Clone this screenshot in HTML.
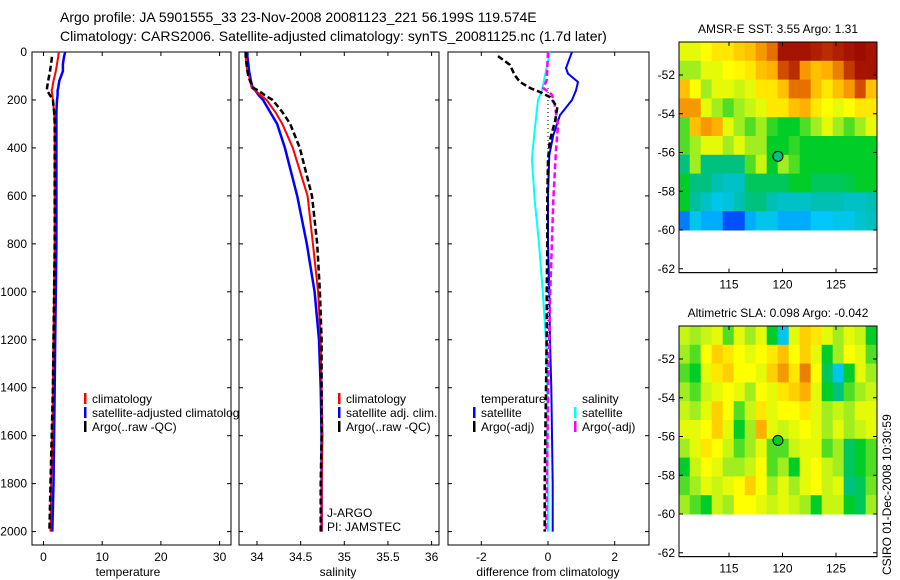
<!DOCTYPE html>
<html><head><meta charset="utf-8">
<style>
html,body{margin:0;padding:0;background:#fff;}
svg{display:block;font-family:"Liberation Sans",sans-serif;}
</style></head>
<body>
<svg id="fig" width="900" height="580" viewBox="0 0 900 580" xmlns="http://www.w3.org/2000/svg">
<rect width="900" height="580" fill="#fff"/>
<text x="60" y="22" font-size="14">Argo profile: JA 5901555_33 23-Nov-2008 20081123_221 56.199S 119.574E</text>
<text x="60" y="41" font-size="14">Climatology: CARS2006. Satellite-adjusted climatology: synTS_20081125.nc (1.7d later)</text>
<g id="root"></g>
</svg>
<script>
// ---------- data ----------
const depths = [0,20,50,80,100,120,150,160,180,200,250,300,400,600,800,1000,1200,1400,1600,1800,2000];
const tempClim = [2.6,2.5,2.3,2.1,1.9,1.7,1.5,1.4,1.5,1.6,1.8,1.9,1.9,1.9,1.9,1.8,1.7,1.6,1.5,1.3,1.2];
const tempSat  = [3.7,3.5,3.3,3.3,3.0,2.7,2.5,2.4,2.4,2.3,2.2,2.2,2.2,2.2,2.2,2.1,2.0,1.9,1.8,1.7,1.5];
const tempArgo = [1.45,1.45,1.3,1.1,0.95,0.8,0.6,0.6,1.1,1.6,1.8,1.9,1.9,1.9,1.9,1.8,1.7,1.6,1.4,1.2,1.0];
const salClim = [33.87,33.87,33.88,33.89,33.91,33.92,33.94,33.98,34.04,34.11,34.21,34.29,34.41,34.58,34.64,34.70,34.73,34.74,34.75,34.74,34.74];
const salSat  = [33.89,33.89,33.90,33.91,33.92,33.93,33.95,33.98,34.02,34.07,34.15,34.23,34.32,34.46,34.57,34.66,34.71,34.73,34.74,34.74,34.74];
const salArgo = [33.87,33.87,33.88,33.89,33.90,33.92,33.96,34.01,34.09,34.18,34.29,34.38,34.49,34.63,34.69,34.72,34.74,34.74,34.74,34.73,34.73];
const dTempSatDepth = [0,30,67,90,125,160,200,263,347,430,600,800,1000,1200,1400,1600,1800,2000];
const dTempSat = [0.72,0.64,0.54,0.6,0.9,0.84,0.72,0.36,0.16,0.04,0.0,0.0,0.04,0.06,0.1,0.12,0.14,0.14];
const dTempArgoDepth = [17,54,96,125,150,167,188,230,284,367,451,600,800,1000,1200,1400,1600,1800,2000];
const dTempArgo = [-1.5,-1.14,-1.0,-0.84,-0.54,-0.24,0.06,0.28,0.22,0.06,0.0,-0.02,-0.02,-0.04,-0.04,-0.06,-0.08,-0.1,-0.1];
const dSalSatDepth = [0,159,200,326,409,451,618,785,994,1203,1453,2000];
const dSalSat = [0.06,-0.18,-0.3,-0.4,-0.46,-0.48,-0.4,-0.28,-0.16,-0.06,-0.02,0.0];
const dSalArgoDepth = [0,117,150,179,221,305,409,618,785,1035,1453,1871,2000];
const dSalArgo = [0.0,-0.04,-0.14,0.12,0.2,0.3,0.24,0.16,0.12,0.06,0.0,-0.04,-0.06];
const depthTicks = [0,200,400,600,800,1000,1200,1400,1600,1800,2000];
const tempTicks = [0,10,20,30];
const salTicks = [34,34.5,35,35.5,36];
const salTickLabels = ["34","34.5","35","35.5","36"];
const diffTicks = [-2,0,2];
const latTicks = [-52,-54,-56,-58,-60,-62];
const lonTicks = [115,120,125];
const argoLon = 119.574, argoLat = -56.199;
// SST map (0..1 colour index), 10 rows (-50.3 -> -60) x 18 cols (110.3 -> 128.8)
const sstGrid = [
[0.6,0.6,0.62,0.65,0.65,0.68,0.7,0.75,0.8,0.95,0.95,0.95,0.92,0.9,0.92,0.95,0.97,0.95],
[0.55,0.55,0.6,0.6,0.62,0.63,0.65,0.7,0.72,0.85,0.9,0.75,0.7,0.72,0.78,0.88,0.95,0.95],
[0.7,0.62,0.55,0.6,0.6,0.58,0.6,0.65,0.65,0.7,0.8,0.8,0.7,0.65,0.7,0.75,0.85,0.7],
[0.75,0.75,0.6,0.55,0.5,0.55,0.58,0.6,0.65,0.65,0.7,0.72,0.65,0.62,0.6,0.62,0.65,0.65],
[0.5,0.7,0.75,0.72,0.6,0.55,0.5,0.55,0.48,0.45,0.45,0.5,0.55,0.6,0.55,0.5,0.55,0.6],
[0.5,0.55,0.6,0.6,0.55,0.6,0.55,0.55,0.45,0.45,0.48,0.45,0.45,0.45,0.45,0.45,0.45,0.45],
[0.4,0.55,0.4,0.4,0.4,0.4,0.5,0.58,0.45,0.55,0.5,0.45,0.45,0.45,0.45,0.45,0.45,0.45],
[0.45,0.4,0.4,0.36,0.34,0.34,0.42,0.42,0.42,0.42,0.45,0.45,0.42,0.42,0.42,0.43,0.45,0.45],
[0.45,0.38,0.34,0.3,0.32,0.36,0.4,0.4,0.36,0.34,0.34,0.34,0.36,0.36,0.36,0.34,0.34,0.36],
[0.2,0.3,0.25,0.25,0.15,0.15,0.25,0.3,0.3,0.25,0.25,0.25,0.28,0.28,0.3,0.3,0.33,0.35]];
const slaGrid = [
[0.58,0.55,0.58,0.6,0.5,0.6,0.55,0.6,0.45,0.3,0.6,0.68,0.65,0.6,0.55,0.6,0.58,0.45],
[0.55,0.5,0.62,0.68,0.65,0.62,0.6,0.62,0.65,0.7,0.62,0.68,0.6,0.45,0.55,0.62,0.6,0.5],
[0.5,0.45,0.6,0.65,0.68,0.62,0.62,0.6,0.68,0.75,0.65,0.78,0.62,0.42,0.3,0.45,0.6,0.55],
[0.55,0.5,0.58,0.6,0.62,0.6,0.55,0.62,0.6,0.65,0.68,0.72,0.6,0.45,0.4,0.5,0.55,0.58],
[0.58,0.55,0.6,0.68,0.62,0.5,0.58,0.65,0.6,0.62,0.62,0.65,0.6,0.55,0.58,0.55,0.6,0.6],
[0.6,0.6,0.62,0.68,0.6,0.45,0.55,0.72,0.6,0.58,0.6,0.62,0.6,0.55,0.6,0.55,0.58,0.6],
[0.55,0.6,0.65,0.62,0.58,0.5,0.55,0.6,0.5,0.5,0.58,0.6,0.6,0.5,0.55,0.42,0.45,0.5],
[0.45,0.58,0.62,0.6,0.55,0.55,0.58,0.62,0.5,0.55,0.45,0.6,0.62,0.58,0.55,0.42,0.45,0.5],
[0.5,0.55,0.6,0.58,0.6,0.62,0.68,0.62,0.55,0.6,0.55,0.6,0.62,0.58,0.6,0.4,0.42,0.52],
[0.55,0.5,0.45,0.58,0.55,0.62,0.62,0.6,0.58,0.6,0.58,0.55,0.45,0.58,0.58,0.45,0.42,0.55]];

// ---------- helpers ----------
const NS="http://www.w3.org/2000/svg";
const root=document.getElementById('root');
function mk(tag,attrs,parent){const e=document.createElementNS(NS,tag);for(const k in attrs)e.setAttribute(k,attrs[k]);(parent||root).appendChild(e);return e;}
const TOP=52,BOT=545;
const yD=d=>52+d*0.2398;
function lin(d0,d1,p0,p1){return v=>p0+(v-d0)*(p1-p0)/(d1-d0);}
function panel(name,x0,x1){
  const g=mk('g',{});
  
  
  mk('rect',{x:x0,y:TOP,width:x1-x0,height:BOT-TOP,fill:'#fff',stroke:'#000','stroke-width':1},g);
  return g;
}
function ticksX(g,vals,labels,sx,x0,x1){
  vals.forEach((v,i)=>{const x=sx(v);
    mk('line',{x1:x,x2:x,y1:BOT,y2:BOT-4,stroke:'#000'},g);
    mk('line',{x1:x,x2:x,y1:TOP,y2:TOP+4,stroke:'#000'},g);
    const t=mk('text',{x:x,y:BOT+16,'font-size':12,'text-anchor':'middle'},g);t.textContent=labels[i];
    
    
  });
  depthTicks.forEach(d=>{const y=yD(d);
    mk('line',{x1:x0,x2:x0+4,y1:y,y2:y,stroke:'#000'},g);
    mk('line',{x1:x1,x2:x1-4,y1:y,y2:y,stroke:'#000'},g);});
}
function line(g,name,ds,vs,sx,color,w,dash){
  const pts=ds.map((d,i)=>sx(vs[i]).toFixed(1)+','+yD(d).toFixed(1)).join(' ');
  const p=mk('polyline',{points:pts,fill:'none',stroke:color,'stroke-width':w},g);
  if(dash)p.setAttribute('stroke-dasharray',dash);
  
  
}
function legend(g,x,y,color,label,name){
  mk('rect',{x:x,y:y-10,width:2.5,height:11,fill:color},g);
  const t=mk('text',{x:x+8,y:y,'font-size':12},g);t.textContent=label;
  
  
}
function text(g,x,y,s,name,anchor){const t=mk('text',{x:x,y:y,'font-size':12,'text-anchor':anchor||'start'},g);t.textContent=s;
  
  return t;}

// ---------- temperature panel ----------
const sxT=lin(0,10,43.5,102.2);
const gT=panel('temperature-panel',32,231);
ticksX(gT,tempTicks,tempTicks.map(String),sxT,32,231);
depthTicks.forEach(d=>{text(gT,27,yD(d)+4,String(d),'depth-tick-label','end');});
line(gT,'temp-satellite-line',depths,tempSat,sxT,'#0000ff',2.5);
line(gT,'temp-climatology-line',depths,tempClim,sxT,'#ff0000',2);
line(gT,'temp-argo-line',depths.slice(1),tempArgo.slice(1),sxT,'#000',2.5,'6,3');
legend(gT,84,403,'#ff0000','climatology','legend-temp-climatology');
legend(gT,84,417,'#0000ff','satellite-adjusted climatology','legend-temp-satellite');
legend(gT,84,431,'#000','Argo(..raw -QC)','legend-temp-argo');
text(gT,128,576,'temperature','x-axis-title-temperature','middle');

// ---------- salinity panel ----------
const sxS=lin(34,35,257,344.3);
const gS=panel('salinity-panel',239,439);
ticksX(gS,salTicks,salTickLabels,sxS,239,439);
line(gS,'sal-satellite-line',depths,salSat,sxS,'#0000ff',2.5);
line(gS,'sal-climatology-line',depths,salClim,sxS,'#ff0000',2);
line(gS,'sal-argo-line',depths,salArgo,sxS,'#000',2.5,'6,3');
legend(gS,338,403,'#ff0000','climatology','legend-sal-climatology');
legend(gS,338,417,'#0000ff','satellite adj. clim.','legend-sal-satellite');
legend(gS,338,431,'#000','Argo(..raw -QC)','legend-sal-argo');
text(gS,327,517,'J-ARGO','data-centre-label');
text(gS,327,531,'PI: JAMSTEC','pi-label');
text(gS,338,576,'salinity','x-axis-title-salinity','middle');

// ---------- difference panel ----------
const sxD=lin(0,2,548,614.7);
const gD=panel('difference-panel',448,649);
ticksX(gD,diffTicks,diffTicks.map(String),sxD,448,649);
mk('line',{x1:sxD(0),x2:sxD(0),y1:yD(150),y2:yD(2000),stroke:'#000','stroke-dasharray':'1,3'},gD);
line(gD,'diff-sal-satellite-line',dSalSatDepth,dSalSat,sxD,'#00ffff',2);
line(gD,'diff-temp-satellite-line',dTempSatDepth,dTempSat,sxD,'#0000ff',2);
line(gD,'diff-sal-argo-line',dSalArgoDepth,dSalArgo,sxD,'#ff00ff',2.5,'6,3');
line(gD,'diff-temp-argo-line',dTempArgoDepth,dTempArgo,sxD,'#000',2.5,'6,3');
text(gD,481,403,'temperature','legend-temperature-heading');
legend(gD,473,417,'#0000ff','satellite','legend-diff-temp-satellite');
legend(gD,473,431,'#000','Argo(-adj)','legend-diff-temp-argo');
text(gD,582,403,'salinity','legend-salinity-heading');
legend(gD,574,417,'#00ffff','satellite','legend-diff-sal-satellite');
legend(gD,574,431,'#ff00ff','Argo(-adj)','legend-diff-sal-argo');
text(gD,548,576,'difference from climatology','x-axis-title-difference','middle');

// ---------- maps ----------
const cstops=[[0,[0,32,160]],[0.15,[0,80,255]],[0.28,[0,200,255]],[0.38,[0,190,160]],[0.45,[0,205,40]],[0.55,[160,238,32]],[0.62,[255,255,0]],[0.72,[255,176,0]],[0.82,[224,96,0]],[0.92,[176,32,0]],[1,[144,0,0]]];
function cmap(v){for(let i=1;i<cstops.length;i++){if(v<=cstops[i][0]){const a=cstops[i-1],b=cstops[i];const t=(v-a[0])/(b[0]-a[0]);return 'rgb('+a[1].map((c,k)=>Math.round(c+(b[1][k]-c)*t)).join(',')+')';}}return 'rgb(144,0,0)';}
function map(name,title,top,grid){
  const g=mk('g',{});
  
  
  const L=679,R=877;
  const sx=lin(115,120,729,782.5);
  const sy=lin(-52,-60,top+33,top+188);
  const bottom=sy(-62.2), topY=top;
  mk('rect',{x:L,y:topY,width:R-L,height:bottom-topY,fill:'#fff',stroke:'#000'},g);
  const rows=grid.length,cols=grid[0].length;
  const lon0=110.3,lon1=128.8,lat0=sy.length?0:0;
  const latTop=-52+(top+33-topY)/ (155/8);
  const cw=(lon1-lon0)/cols, ch=(latTop-(-60))/rows;
  grid.forEach((row,r)=>row.forEach((v,c)=>{
    const x=sx(lon0+c*cw), y=sy(latTop-r*ch);
    const cell=mk('rect',{x:x.toFixed(2),y:y.toFixed(2),width:(sx(lon0+(c+1)*cw)-x+0.5).toFixed(2),height:(sy(latTop-(r+1)*ch)-y+0.5).toFixed(2),fill:cmap(v)},g);
    
    
  }));
  mk('rect',{x:L,y:topY,width:R-L,height:bottom-topY,fill:'none',stroke:'#000'},g);
  latTicks.forEach(la=>{const y=sy(la);
    mk('line',{x1:L,x2:L+4,y1:y,y2:y,stroke:'#000'},g);
    mk('line',{x1:R,x2:R-4,y1:y,y2:y,stroke:'#000'},g);
    text(g,675,y+4,String(la),'lat-tick-label','end');});
  lonTicks.forEach(lo=>{const x=sx(lo);
    mk('line',{x1:x,x2:x,y1:topY,y2:topY+4,stroke:'#000'},g);
    mk('line',{x1:x,x2:x,y1:bottom,y2:bottom-4,stroke:'#000'},g);
    text(g,x,bottom+16,String(lo),'lon-tick-label','middle');});
  const dot=mk('circle',{cx:sx(argoLon),cy:sy(argoLat),r:5,fill:cmap(name==='sst-map'?0.4:0.45),stroke:'#000'},g);
  
  
  text(g,778,top-9,title,name+'-title','middle');
}
map('sst-map','AMSR-E SST: 3.55 Argo: 1.31',42,sstGrid);
map('sla-map','Altimetric SLA: 0.098 Argo: -0.042',326,slaGrid);
const cs=text(root,0,0,'CSIRO 01-Dec-2008 10:30:59','timestamp-label','start');
cs.setAttribute('transform','translate(891,575) rotate(-90)');
</script>
</body></html>
